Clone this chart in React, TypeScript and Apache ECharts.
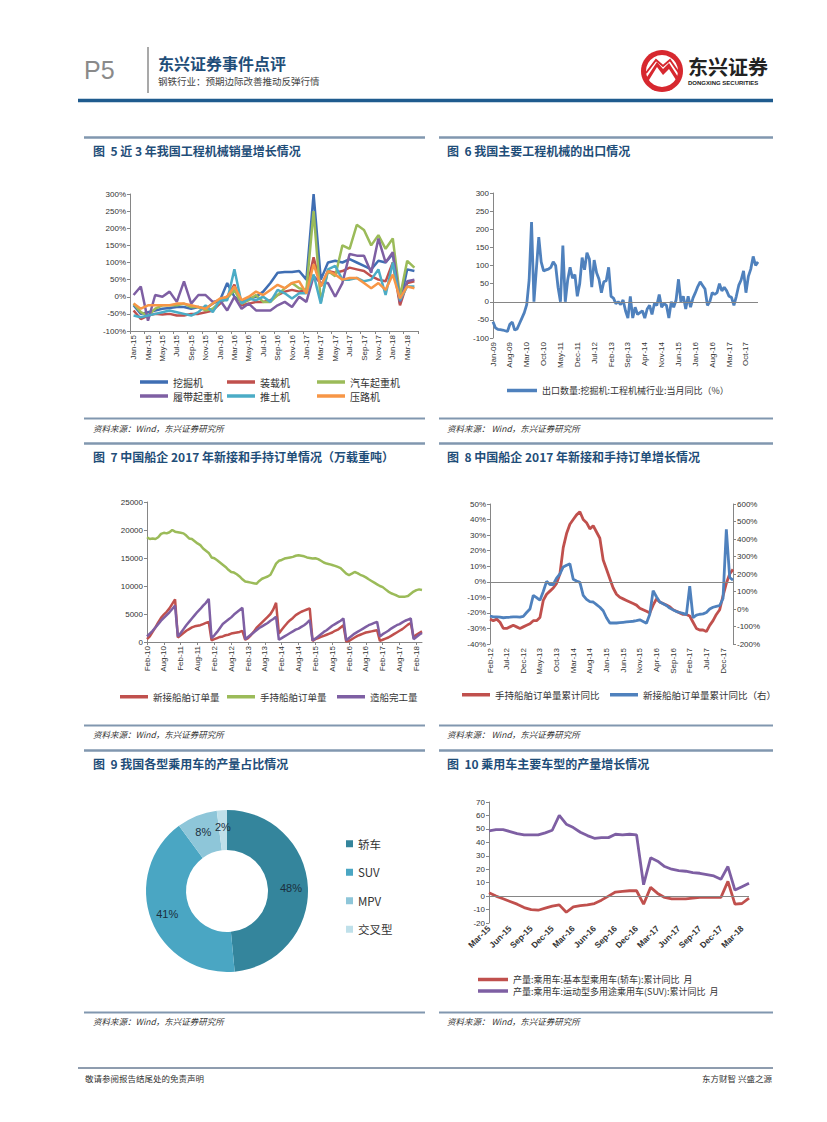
import React, { useEffect, useRef } from "react";
import * as echarts from "echarts";

const MONTH_NAMES = ["Jan", "Feb", "Mar", "Apr", "May", "Jun", "Jul", "Aug", "Sep", "Oct", "Nov", "Dec"];
function monthLabels(year: number, month: number, count: number): string[] {
  const out: string[] = [];
  let y = year;
  let m = month;
  for (let i = 0; i < count; i++) {
    out.push(`${MONTH_NAMES[m - 1]}-${String(y % 100).padStart(2, "0")}`);
    m++;
    if (m > 12) { m = 1; y++; }
  }
  return out;
}

// ---------- Fig 5: 工程机械销量增长 (Jan-15 .. Apr-18) ----------
const fig5Months = monthLabels(2015, 1, 40);
const fig5Excavator = [-25, -50, -45, -40, -35, -33, -30, -30, -35, -30, -35, -20, -10, 40, 0, -15, -5, 0, 15, 40, 70, 72, 72, 75, 50, 300, 50, 100, 105, 100, 110, 100, 90, 80, 105, 100, 125, -20, 80, 75];
const fig5Loader = [-40, -65, -55, -50, -52, -50, -55, -55, -50, -50, -45, -40, -20, 0, 35, -25, -20, -15, -15, -10, 5, 15, 20, 15, 20, 115, 30, 75, 70, 75, 85, 80, 75, 60, 50, 45, 100, -25, 40, 45];
const fig5TruckCrane = [-20, -45, -55, -35, -25, -25, -25, -20, -30, -30, -40, -35, -15, -5, 20, -20, -10, 5, -15, -15, 5, 25, 40, 25, 20, 250, -15, 75, 60, 150, 140, 210, 195, 150, 180, 140, 170, 0, 105, 85];
const fig5CrawlerCrane = [5, 30, -70, 5, 0, 15, -15, 45, -20, 5, 5, -15, -10, -40, 0, -35, -20, -40, -40, -40, -25, -15, -30, 0, -15, 60, 40, 40, 0, 40, 125, 120, 120, 70, 170, 100, 130, -15, 45, 50];
const fig5Bulldozer = [-55, -60, -55, -50, -45, -40, -45, -50, -55, -45, -25, -45, -10, -10, 80, -20, -5, -10, 0, -15, 20, 10, -5, 10, 10, 65, -20, 80, 90, 50, 50, 55, 45, 50, 80, 5, 100, -10, 30, 30];
const fig5Roller = [-20, -35, -25, -25, -25, -25, -20, -20, -25, -30, -35, -20, -5, 0, 30, -10, 0, 15, 5, 20, 35, 25, 40, 45, 10, 95, 30, 75, 65, 50, 55, 55, 40, 25, 40, 20, 65, -5, 30, 25];
const fig5Names = ["挖掘机", "装载机", "汽车起重机", "履带起重机", "推土机", "压路机"];
const fig5Colors = ["#3F6EB3", "#C0504D", "#9BBB59", "#7E5FA3", "#4BACC6", "#F79646"];

// ---------- Fig 6: 挖掘机出口同比 (Jan-09 .. Mar-18) ----------
const fig6Months = monthLabels(2009, 1, 111);
const fig6Export = [
  -55, -72, -76, -77, -78, -80, -82, -62, -56, -78, -75, -60, -45, -30, -8, 60, 220, 0, 90, 178,
  110, 85, 88, 90, 95, 110, 100, 40, 0, 155, 0, 60, 95, 65, 75, 15, 50, 122, 88, 135,
  118, 40, 115, 80, 62, 25, 55, 58, 95, 15, 10, -5, 0, -8, 5, -25, -45, 15, -45, -15,
  -35, -30, -25, -45, -20, -10, -35, -5, -10, 20, -15, -5, -10, -45, 0, -15, 5, 62, 0, 15,
  -20, 15, -15, 10, 25, 42, 55, 45, 35, -10, 0, 25, 20, 25, 50, 30, 40, 30, 15, 12,
  -10, 15, 45, 60, 85, 25, 70, 90, 125, 100, 110,
];
const fig6Name = "出口数量:挖掘机:工程机械行业:当月同比（%）";

// ---------- Fig 7: 船企新接/手持/完工 (Feb-10 .. Apr-18) ----------
const fig7Months = monthLabels(2010, 2, 99);
const fig7NewOrders = [
  500, 1000, 1800, 2600, 3500, 4300, 4900, 5400, 6000, 6800, 7600,
  800, 1200, 1600, 2000, 2300, 2600, 2800, 2900, 3000, 3200, 3400, 3600,
  300, 500, 700, 900, 1000, 1200, 1300, 1500, 1600, 1700, 1800, 2000,
  400, 700, 1200, 1800, 2500, 3000, 3500, 4000, 4500, 5000, 5800, 7000,
  1500, 2200, 2800, 3400, 3900, 4300, 4800, 5100, 5400, 5600, 5800, 6000,
  200, 500, 700, 900, 1100, 1300, 1500, 1700, 2000, 2200, 2600, 3000,
  100, 200, 500, 800, 1100, 1300, 1500, 1700, 1800, 1900, 2000, 2100,
  200, 400, 600, 800, 1100, 1400, 1700, 2000, 2300, 2700, 3100, 3400,
  800, 1300, 1600, 1900,
];
const fig7Backlog = [
  18700, 18400, 18500, 18400, 18700, 19300, 19500, 19400, 19600, 20000, 19700, 19600,
  19500, 19400, 19000, 18500, 18400, 18000, 17600, 17300, 16700, 16300, 15900, 15100,
  14950, 14600, 14200, 13800, 13400, 12900, 12500, 12400, 12100, 11700, 11200, 10800,
  10700, 10600, 10500, 10400, 10900, 11300, 11500, 11700, 12000, 13000, 14000, 14500,
  14650, 14900, 15000, 15100, 15200, 15400, 15500, 15400, 15300, 15100, 15000, 14900,
  14950, 14800, 14500, 14200, 14000, 13900, 13750, 13600, 13400, 13200, 12700, 12200,
  11960, 12200, 12500, 12300, 12000, 11800, 11540, 11200, 10900, 10600, 10300, 10000,
  9800, 9400, 9000, 8700, 8500, 8300, 8070, 8100, 8100, 8200, 8600, 9000,
  9270, 9400, 9300,
];
const fig7Completed = [
  1000, 1500, 2000, 2600, 3200, 3800, 4300, 4800, 5300, 5900, 6500,
  1000, 1600, 2300, 3000, 3600, 4200, 4800, 5400, 5900, 6500, 7000, 7700,
  700, 1200, 1800, 2500, 3200, 3600, 4000, 4400, 4900, 5300, 5700, 6100,
  500, 900, 1300, 1700, 2100, 2500, 2800, 3100, 3400, 3800, 4100, 4500,
  400, 700, 1000, 1300, 1600, 1900, 2200, 2400, 2700, 3000, 3400, 3900,
  300, 600, 1000, 1400, 1800, 2100, 2500, 2900, 3200, 3500, 3800, 4200,
  300, 700, 1100, 1500, 1800, 2100, 2400, 2700, 3000, 3200, 3400, 3600,
  1000, 1400, 1700, 2000, 2400, 2700, 3000, 3200, 3500, 3800, 4000, 4200,
  500, 900, 1300, 1600,
];
const fig7Names = ["新接船舶订单量", "手持船舶订单量", "造船完工量"];
const fig7Colors = ["#C0504D", "#9BBB59", "#7E5FA3"];

// ---------- Fig 8: 累计同比 (Feb-12 .. Mar-18) ----------
const fig8Months = monthLabels(2012, 2, 74);
const fig8BacklogYoY = [
  -24, -25, -24, -26, -30, -30, -29, -28, -29, -30,
  -29, -28, -27, -25, -25, -23, -12, -8, -6, -4,
  -1, 5, 22, 31, 37, 40, 43, 45, 40, 38,
  34, 36, 32, 28, 14, 8, 2, -4, -8, -10,
  -11, -12, -13, -14, -15, -17, -18, -19, -20, -15,
  -11, -13, -14, -15, -16, -18, -19, -20, -21, -21,
  -22, -26, -30, -31, -31, -32, -28, -25, -21, -18,
  -9, -1, 5, 8,
];
const fig8NewYoY = [
  -40, -45, -45, -47, -50, -48, -47, -45, -45, -47,
  -42, -20, 0, 78, 65, 50, 100, 158, 140, 140,
  177, 200, 240, 250, 258, 170, 160, 152, 78, 55,
  42, 40, 25, 10, -10, -50, -80, -80, -80, -78,
  -76, -74, -72, -70, -67, -62, -72, -82, -30, 105,
  70, 40, 30, 20, 5, -5, -15, -20, -25, -32,
  130, -50, -35, -30, -28, -20, 0, 10, 15, 20,
  60, 455, 180, 165,
];
const fig8Names = ["手持船舶订单量累计同比", "新接船舶订单量累计同比（右）"];
const fig8Colors = ["#C0504D", "#4F81BD"];

// ---------- Fig 9: 乘用车产量占比 ----------
const fig9Types = ["轿车", "SUV", "MPV", "交叉型"];
const fig9Shares = [48, 41, 8, 2];
const fig9Colors = ["#34859C", "#4AA6C3", "#8EC6D9", "#BFE0EA"];

// ---------- Fig 10: 乘用车产量累计同比 (Mar-15 .. Apr-18) ----------
const fig10Months = monthLabels(2015, 3, 38);
const fig10Sedan = [2.5, 0, -2, -4, -6, -8.5, -10, -10.5, -9, -7.5, -6.5, -12, -8, -7, -6.5, -5.5, -3, 0, 3, 3.5, 4, 4, -6, 6.5, 2, -1, -2, -2, -2, -1.5, -1, -1, -1, -1, 11, -6, -5.5, -1.5];
const fig10Suv = [48.5, 49.5, 49.5, 48, 46.5, 45.5, 45.5, 45.5, 47, 49, 60, 53.5, 51, 47.5, 45, 43, 43.5, 43.5, 46, 45.5, 46, 45.5, 8.5, 28.5, 26, 22, 20, 19, 18.5, 17.5, 17, 16, 15, 12.5, 22, 4.5, 7, 9.5];
const fig10Names = ["产量:乘用车:基本型乘用车(轿车):累计同比  月", "产量:乘用车:运动型多用途乘用车(SUV):累计同比  月"];
const fig10Colors = ["#C0504D", "#7E5FA3"];

// ---------- page texts ----------
const headerTitle = "东兴证券事件点评";
const headerSub = "钢铁行业：预期边际改善推动反弹行情";
const figTitles = [
  "图  5 近 3 年我国工程机械销量增长情况",
  "图  6 我国主要工程机械的出口情况",
  "图  7 中国船企 2017 年新接和手持订单情况（万载重吨）",
  "图  8 中国船企 2017 年新接和手持订单增长情况",
  "图  9 我国各型乘用车的产量占比情况",
  "图  10 乘用车主要车型的产量增长情况",
];
const sourceLeft = "资料来源：Wind，东兴证券研究所";
const sourceRight = "资料来源： Wind，东兴证券研究所";

const CJK = "'Noto Sans CJK SC', 'Noto Sans', sans-serif";
const LAT = "'Liberation Sans', Arial, 'Noto Sans CJK SC', sans-serif";
const AXIS_GREY = "#868686";
const LABEL_COLOR = "#333333";

function txt(text: string, x: number, y: number, o: any = {}) {
  return {
    type: "text",
    x,
    y,
    silent: true,
    style: {
      text,
      fill: o.fill || "#333",
      fontSize: o.fontSize || 10,
      fontWeight: o.fontWeight || "normal",
      fontStyle: o.fontStyle || "normal",
      fontFamily: o.fontFamily || CJK,
      textAlign: o.align || "left",
      textVerticalAlign: "middle",
      align: o.align || "left",
      verticalAlign: "middle",
    },
  };
}
function hline(x1: number, x2: number, y: number, stroke: string, lineWidth: number) {
  return { type: "line", silent: true, shape: { x1, y1: y, x2, y2: y }, style: { stroke, lineWidth } };
}

function lineLegend(name: string, left: number, top: number, fontSize: number, width = 28) {
  return {
    data: [name],
    left,
    top,
    padding: 0,
    icon: "rect",
    itemWidth: width,
    itemHeight: 3.5,
    itemGap: 0,
    selectedMode: false,
    textStyle: { fontSize, color: LABEL_COLOR, fontFamily: CJK, padding: [0, 0, 0, 0] },
  };
}

function line(name: string, data: number[], color: string, xi: number, yi: number, width = 2.5, extra: any = {}) {
  return {
    type: "line",
    name,
    data,
    xAxisIndex: xi,
    yAxisIndex: yi,
    symbol: "none",
    smooth: false,
    lineStyle: { color, width },
    itemStyle: { color },
    ...extra,
  };
}

const zeroMark = {
  silent: true,
  symbol: "none",
  label: { show: false },
  lineStyle: { color: AXIS_GREY, width: 1, type: "solid" },
  data: [{ yAxis: 0 }],
};

function valueAxis(grid: number, min: number, max: number, interval: number, suffix: string, extra: any = {}) {
  return {
    type: "value",
    gridIndex: grid,
    min,
    max,
    interval,
    splitLine: { show: false },
    axisLine: { show: true, lineStyle: { color: AXIS_GREY } },
    axisTick: { show: true, length: 3, lineStyle: { color: AXIS_GREY } },
    axisLabel: {
      formatter: (v: number) => `${v}${suffix}`,
      fontSize: 8,
      color: LABEL_COLOR,
      fontFamily: LAT,
      margin: 4,
    },
    ...extra,
  };
}

function catAxis(grid: number, data: string[], interval: number, rotate: number, boundaryGap: boolean, showLine: boolean, extra: any = {}) {
  return {
    type: "category",
    gridIndex: grid,
    data,
    boundaryGap,
    axisLine: { show: showLine, onZero: false, lineStyle: { color: AXIS_GREY } },
    axisTick: { show: showLine, interval, length: 3, lineStyle: { color: AXIS_GREY } },
    axisLabel: { interval, rotate, fontSize: 8, color: LABEL_COLOR, fontFamily: LAT, margin: 4 },
    ...extra,
  };
}

export default function App() {
  const ref = useRef<HTMLDivElement>(null);
  useEffect(() => {
    if (!ref.current) return;
    const chart = echarts.init(ref.current, undefined, { renderer: "svg" });

    const graphic: any[] = [];
    // header
    graphic.push(txt("P5", 84, 70, { fontSize: 25, fill: "#8a8a8a", fontFamily: "'Liberation Sans Narrow', 'Liberation Sans', Arial" }));
    graphic.push({ type: "line", silent: true, shape: { x1: 148, y1: 47, x2: 148, y2: 93 }, style: { stroke: "#8c8c8c", lineWidth: 1.5 } });
    graphic.push(txt(headerTitle, 158, 63, { fontSize: 16, fontWeight: "bold", fill: "#1F4E79" }));
    graphic.push(txt(headerSub, 158, 81, { fontSize: 9.5, fill: "#444" }));
    // logo
    graphic.push({ type: "circle", silent: true, shape: { cx: 662, cy: 71, r: 21 }, style: { fill: "#D7282F" } });
    graphic.push({ type: "circle", silent: true, shape: { cx: 662, cy: 71, r: 16 }, style: { fill: "#ffffff" } });
    graphic.push({ type: "polygon", silent: true, shape: { points: [[645, 80], [657, 62], [663, 69], [669, 63], [680, 80], [676, 80], [669, 69], [663, 75], [657, 67], [649, 80]] }, style: { fill: "#D7282F" } });
    graphic.push({ type: "polyline", silent: true, shape: { points: [[646, 73], [656, 60], [663, 66], [670, 60], [679, 73]] }, style: { stroke: "#D7282F", lineWidth: 2, fill: "none" } });
    graphic.push(txt("东兴证券", 688, 66, { fontSize: 20, fontWeight: "bold", fill: "#222" }));
    graphic.push(txt("DONGXING SECURITIES", 688, 83, { fontSize: 6, fontWeight: "bold", fill: "#222", fontFamily: LAT }));
    graphic.push(hline(78, 773, 100.5, "#1F5B8E", 3.5));

    // section bars, titles and sources
    const cols = [
      { x1: 84, x2: 425, tx: 93 },
      { x1: 439, x2: 773, tx: 447 },
    ];
    const titleBars = [137.5, 443.5, 750.5];
    const titleYs = [150, 456, 763];
    const sourceBars = [418.5, 725.5, 1012.5];
    const sourceYs = [428, 734, 1021];
    for (let r = 0; r < 3; r++) {
      for (let c = 0; c < 2; c++) {
        const col = cols[c];
        graphic.push(hline(col.x1, col.x2, titleBars[r], "#8197AF", 2.5));
        graphic.push(txt(figTitles[r * 2 + c], col.tx, titleYs[r], { fontSize: 12, fontWeight: "bold", fill: "#1F4E79" }));
        graphic.push(hline(col.x1, col.x2, sourceBars[r], "#8197AF", 2));
        graphic.push(txt(c === 0 ? sourceLeft : sourceRight, col.tx, sourceYs[r], { fontSize: 8.5, fontStyle: "italic", fill: "#333" }));
      }
    }
    // footer
    graphic.push(hline(78, 773, 1068, "#1F3A5F", 1));
    graphic.push(txt("敬请参阅报告结尾处的免责声明", 85, 1078, { fontSize: 8.5, fill: "#333" }));
    graphic.push(txt("东方财智 兴盛之源", 772, 1078, { fontSize: 8.5, fill: "#333", align: "right" }));

    const legends: any[] = [];
    const f5Pos = [[140, 377], [227, 377], [317, 377], [140, 391], [227, 391], [317, 391]];
    fig5Names.forEach((n, i) => legends.push(lineLegend(n, f5Pos[i][0], f5Pos[i][1], 10)));
    legends.push(lineLegend(fig6Name, 507, 386, 9, 30));
    const f7Pos = [120, 227, 337];
    fig7Names.forEach((n, i) => legends.push(lineLegend(n, f7Pos[i], 692, 9.5)));
    legends.push(lineLegend(fig8Names[0], 462, 690, 9.5));
    legends.push(lineLegend(fig8Names[1], 610, 690, 9.5));
    legends.push(lineLegend(fig10Names[0], 478, 975, 9, 30));
    legends.push(lineLegend(fig10Names[1], 478, 986.5, 9, 30));
    legends.push({
      data: fig9Types,
      orient: "vertical",
      left: 346,
      top: 838,
      padding: 0,
      icon: "rect",
      itemWidth: 7,
      itemHeight: 7,
      itemGap: 17,
      selectedMode: false,
      textStyle: { fontSize: 11.5, color: LABEL_COLOR, fontFamily: CJK },
    });

    const option: any = {
      animation: false,
      backgroundColor: "#ffffff",
      graphic: { elements: graphic },
      legend: legends,
      grid: [
        { left: 130, top: 194, width: 288, height: 137 },
        { left: 493, top: 193, width: 265, height: 145 },
        { left: 147, top: 502, width: 275, height: 140 },
        { left: 490, top: 504, width: 243, height: 140 },
        { left: 489, top: 802, width: 260, height: 121 },
      ],
      xAxis: [
        catAxis(0, fig5Months, 1, 90, true, true),
        catAxis(1, fig6Months, 6, 90, false, false),
        catAxis(2, fig7Months, 5, 90, false, true),
        catAxis(3, fig8Months, 4, 90, false, false),
        catAxis(4, fig10Months, 2, 45, false, false, {
          axisLabel: { interval: 2, rotate: 45, fontSize: 8.5, fontWeight: "bold", color: LABEL_COLOR, fontFamily: LAT, margin: 4 },
        }),
      ],
      yAxis: [
        valueAxis(0, -100, 300, 50, "%"),
        valueAxis(1, -100, 300, 50, ""),
        valueAxis(2, 0, 25000, 5000, ""),
        valueAxis(3, -40, 50, 10, "%"),
        valueAxis(3, -200, 600, 100, "%", { position: "right" }),
        valueAxis(4, -20, 70, 10, ""),
      ],
      series: [
        line(fig5Names[0], fig5Excavator, fig5Colors[0], 0, 0),
        line(fig5Names[1], fig5Loader, fig5Colors[1], 0, 0),
        line(fig5Names[2], fig5TruckCrane, fig5Colors[2], 0, 0),
        line(fig5Names[3], fig5CrawlerCrane, fig5Colors[3], 0, 0),
        line(fig5Names[4], fig5Bulldozer, fig5Colors[4], 0, 0),
        line(fig5Names[5], fig5Roller, fig5Colors[5], 0, 0),
        line(fig6Name, fig6Export, "#4F81BD", 1, 1, 2.8, { markLine: zeroMark, z: 3 }),
        line(fig7Names[0], fig7NewOrders, fig7Colors[0], 2, 2),
        line(fig7Names[1], fig7Backlog, fig7Colors[1], 2, 2),
        line(fig7Names[2], fig7Completed, fig7Colors[2], 2, 2),
        line(fig8Names[0], fig8BacklogYoY, fig8Colors[0], 3, 3, 2.8, { markLine: zeroMark }),
        line(fig8Names[1], fig8NewYoY, fig8Colors[1], 3, 4, 2.8),
        {
          type: "pie",
          name: "乘用车产量占比",
          center: [227, 891],
          radius: [41, 81],
          startAngle: 90,
          clockwise: true,
          avoidLabelOverlap: false,
          label: {
            show: true,
            position: "inside",
            formatter: (p: any) => `${p.value}%`,
            fontSize: 11,
            color: "#1B2F3D",
            fontFamily: LAT,
          },
          labelLine: { show: false },
          emphasis: { disabled: true },
          data: fig9Types.map((t, i) => ({ name: t, value: fig9Shares[i], itemStyle: { color: fig9Colors[i] } })),
        },
        line(fig10Names[0], fig10Sedan, fig10Colors[0], 4, 5, 2.8, { markLine: zeroMark }),
        line(fig10Names[1], fig10Suv, fig10Colors[1], 4, 5, 2.8),
      ],
    };
    chart.setOption(option);
    return () => chart.dispose();
  }, []);

  return (
    <div
      ref={ref}
      style={{ position: "absolute", left: 0, top: 0, width: 827, height: 1122, background: "#ffffff" }}
    />
  );
}
